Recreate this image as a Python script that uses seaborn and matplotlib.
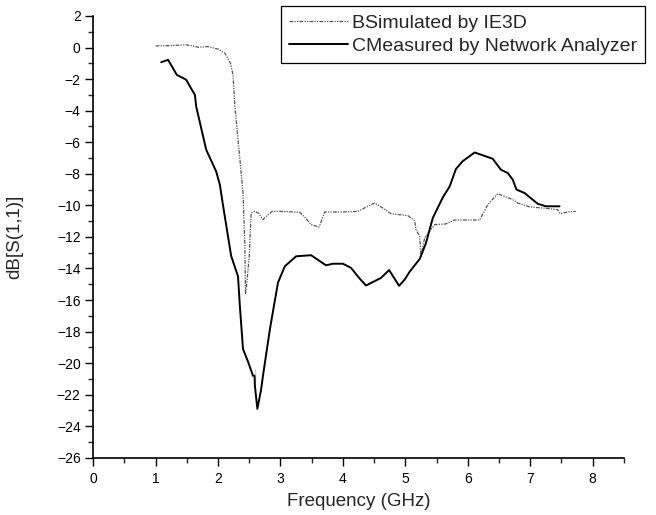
import numpy as np
import pandas as pd
import seaborn as sns
import matplotlib.pyplot as plt
from matplotlib.ticker import MultipleLocator

# simulated curve (IE3D)
sim_freq = [1.0, 1.2, 1.49, 1.6, 1.68, 1.84, 2.0, 2.11, 2.2, 2.24, 2.27, 2.32, 2.36,
            2.40, 2.43, 2.44, 2.46, 2.50, 2.53, 2.59, 2.65, 2.72, 2.80, 2.87, 3.0,
            3.31, 3.40, 3.49, 3.62, 3.71, 4.0, 4.24, 4.38, 4.51, 4.65, 4.77, 5.04,
            5.15, 5.17, 5.23, 5.25, 5.31, 5.47, 5.65, 5.79, 6.19, 6.32, 6.48, 6.6,
            6.72, 6.8, 6.99, 7.2, 7.44, 7.48, 7.6, 7.73]
sim_db = [0.1, 0.12, 0.17, 0.1, 0.02, 0.06, -0.1, -0.36, -1.0, -1.73, -3.73, -5.84, -7.5,
          -9.2, -12.6, -15.6, -15.0, -13.2, -10.48, -10.38, -10.5, -10.9, -10.6, -10.38, -10.38,
          -10.44, -10.8, -11.22, -11.37, -10.42, -10.42, -10.38, -10.1, -9.85, -10.2, -10.53, -10.65,
          -10.97, -11.54, -11.96, -13.23, -12.06, -11.22, -11.18, -10.93, -10.93, -9.96, -9.26, -9.45,
          -9.64, -9.85, -10.1, -10.17, -10.27, -10.53, -10.42, -10.38]

# measured curve (network analyzer)
meas_freq = [1.09, 1.2, 1.34, 1.49, 1.57, 1.63, 1.65, 1.81, 1.97, 2.03, 2.08, 2.21, 2.32,
             2.35, 2.40, 2.48, 2.56, 2.585, 2.585, 2.59, 2.63, 2.69, 2.72, 2.83, 2.96,
             3.07, 3.25, 3.49, 3.73, 3.84, 4.0, 4.13, 4.26, 4.37, 4.61, 4.74, 4.9,
             4.99, 5.07, 5.23, 5.33, 5.44, 5.6, 5.71, 5.81, 5.92, 6.11, 6.4, 6.53,
             6.64, 6.72, 6.78, 6.91, 7.04, 7.12, 7.25, 7.47]
meas_db = [-0.93, -0.78, -1.73, -2.04, -2.6, -3.0, -3.73, -6.47, -7.85, -8.7, -10.0, -13.2, -14.5,
           -16.4, -19.1, -19.9, -20.8, -21.2, -20.4, -21.4, -22.9, -21.67, -20.8, -17.87, -14.9,
           -13.86, -13.23, -13.16, -13.8, -13.7, -13.7, -13.96, -14.6, -15.08, -14.6, -14.1, -15.1,
           -14.7, -14.2, -13.4, -12.4, -10.8, -9.5, -8.8, -7.7, -7.2, -6.65, -7.05, -7.74,
           -7.95, -8.37, -9.0, -9.22, -9.64, -9.9, -10.06, -10.06]

sim_label = "BSimulated by IE3D"
meas_label = "CMeasured by Network Analyzer"

sns.set_style("ticks")
plt.rcParams['font.family'] = ['Liberation Sans', 'DejaVu Sans']

fig = plt.figure(figsize=(6.56, 5.15), dpi=100)
ax = fig.add_axes([0.142, 0.111, 0.809, 0.858])

df_sim = pd.DataFrame({"f": sim_freq, "db": sim_db})
df_meas = pd.DataFrame({"f": meas_freq, "db": meas_db})

sns.lineplot(data=df_sim, x="f", y="db", sort=False, ax=ax, color="#555555",
             linewidth=0.9, linestyle=(0, (3, 1, 1, 1, 1, 1)), label=sim_label)
sns.lineplot(data=df_meas, x="f", y="db", sort=False, ax=ax, color="black",
             linewidth=1.4, label=meas_label)

ax.set_xlim(0, 8.5)
ax.set_ylim(-26, 2)
ax.xaxis.set_major_locator(MultipleLocator(1))
ax.xaxis.set_minor_locator(MultipleLocator(0.5))
ax.yaxis.set_major_locator(MultipleLocator(2))
ax.yaxis.set_minor_locator(MultipleLocator(1))
ax.tick_params(which='major', direction='out', length=6, width=1, labelsize=10, colors='black')
ax.tick_params(which='minor', direction='out', length=3.5, width=1)
ax.tick_params(axis='x', pad=4)
ax.tick_params(axis='y', pad=3)

for side in ['top', 'right']:
    ax.spines[side].set_visible(False)
for side in ['left', 'bottom']:
    ax.spines[side].set_linewidth(1.2)
    ax.spines[side].set_color('black')

ax.set_xlabel("Frequency (GHz)", fontsize=13.5, labelpad=5)
ax.set_ylabel("dB[S(1,1)]", fontsize=13.5)
ax.yaxis.set_label_coords(-0.132, 0.5)

leg = ax.legend(loc='upper right', bbox_to_anchor=(0.983, 0.988),
                bbox_transform=fig.transFigure, frameon=True, fancybox=False,
                edgecolor='black', fontsize=14, handlelength=3.0,
                labelspacing=0.27, borderaxespad=0, borderpad=0.42, handletextpad=0.2)
leg.get_frame().set_linewidth(0.9)
leg.get_frame().set_alpha(1)

fig.savefig("out.png", dpi=100)
